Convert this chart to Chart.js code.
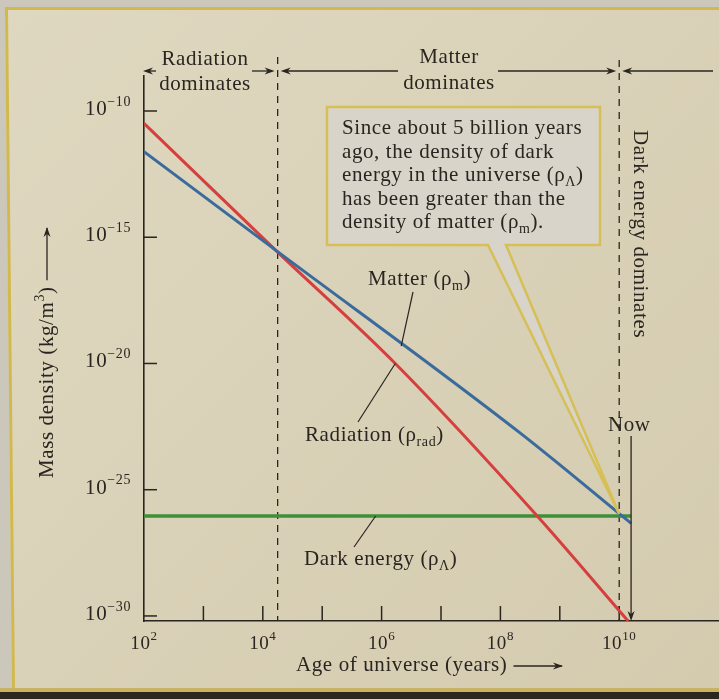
<!DOCTYPE html>
<html>
<head>
<meta charset="utf-8">
<script src="https://cdn.jsdelivr.net/npm/chart.js@4.4.1/dist/chart.umd.min.js"></script>
<style>
  html, body { margin: 0; padding: 0; background: #dcd4bb; }
  #wrap { width: 719px; height: 699px; }
</style>
</head>
<body>
<div id="wrap"><canvas id="densityChart" width="719" height="699"></canvas></div>
<script>
// values, stored as powers of ten
const radiationAge = [2, 4.21, 6.23, 8.62, 10.15];
const radiationDensity = [-10.49, -15.5, -20.0, -26.04, -30.2];
const matterAge = [2, 4.21, 8.33, 10.2];
const matterDensity = [-11.61, -15.5, -22.75, -26.33];
const darkEnergyAge = [2, 10.2];
const darkEnergyDensity = [-26.04, -26.04];

const xTickExps = [3, 4, 5, 6, 7, 8, 9, 10];
const xLabelExps = [2, 4, 6, 8, 10];
const yTickExps = [-10, -15, -20, -25, -30];

const equalityAge = 4.25;   // radiation = matter
const lambdaAge = 10.0;     // dark energy takes over
const nowAge = 10.2;

const INK = "#2a2520";
const FONT = '"Liberation Serif", "DejaVu Serif", serif';

function toPoints(ages, dens) {
  return ages.map((a, i) => ({ x: Math.pow(10, a), y: Math.pow(10, dens[i]) }));
}

// position along a series (in log space), used only to anchor leader lines
function logAt(ages, dens, a) {
  for (let i = 1; i < ages.length; i++) {
    if (a <= ages[i]) {
      const t = (a - ages[i - 1]) / (ages[i] - ages[i - 1]);
      return dens[i - 1] + t * (dens[i] - dens[i - 1]);
    }
  }
  return dens[dens.length - 1];
}

function setFont(ctx, size) {
  ctx.font = size + "px " + FONT;
  ctx.letterSpacing = "0.6px";
}

// parts: [text, "sup" | "sub" | undefined]
function richText(ctx, parts, x, y, size, align) {
  const small = Math.round(size * 0.66);
  let total = 0;
  const widths = parts.map(p => {
    setFont(ctx, p[1] ? small : size);
    const w = ctx.measureText(p[0]).width;
    total += w;
    return w;
  });
  let cx = align === "right" ? x - total : align === "center" ? x - total / 2 : x;
  ctx.textAlign = "left";
  ctx.textBaseline = "alphabetic";
  ctx.fillStyle = INK;
  parts.forEach((p, i) => {
    setFont(ctx, p[1] ? small : size);
    const dy = p[1] === "sup" ? -size * 0.45 : p[1] === "sub" ? size * 0.25 : 0;
    ctx.fillText(p[0], cx, y + dy);
    cx += widths[i];
  });
  return total;
}

function seg(ctx, x1, y1, x2, y2, w, dash) {
  ctx.save();
  ctx.strokeStyle = INK;
  ctx.lineWidth = w || 1.3;
  ctx.setLineDash(dash || []);
  ctx.beginPath();
  ctx.moveTo(x1, y1);
  ctx.lineTo(x2, y2);
  ctx.stroke();
  ctx.restore();
}

// small filled arrowhead with its tip at (x, y), pointing along angle
function head(ctx, x, y, angle) {
  ctx.save();
  ctx.translate(x, y);
  ctx.rotate(angle);
  ctx.fillStyle = INK;
  ctx.beginPath();
  ctx.moveTo(0, 0);
  ctx.lineTo(-10, -3.5);
  ctx.lineTo(-7, 0);
  ctx.lineTo(-10, 3.5);
  ctx.closePath();
  ctx.fill();
  ctx.restore();
}

const figure = {
  id: "figure",
  beforeDraw(chart) {
    const ctx = chart.ctx;
    const g = ctx.createLinearGradient(0, 0, 719, 699);
    g.addColorStop(0, "#dfd8c0");
    g.addColorStop(1, "#d4cbaf");
    ctx.save();
    ctx.fillStyle = g;
    ctx.fillRect(0, 0, 719, 699);
    // page edge and frame of the photographed figure
    ctx.fillStyle = "#cbc7ba";
    ctx.fillRect(0, 0, 719, 7);
    ctx.beginPath();
    ctx.moveTo(0, 0); ctx.lineTo(5, 0); ctx.lineTo(12, 699); ctx.lineTo(0, 699);
    ctx.fill();
    ctx.strokeStyle = "#d2b94e";
    ctx.lineWidth = 3;
    ctx.beginPath();
    ctx.moveTo(719, 8.5); ctx.lineTo(6.5, 8.5); ctx.lineTo(13.5, 690);
    ctx.stroke();
    ctx.fillStyle = "#c9b262";
    ctx.fillRect(0, 688, 719, 4);
    ctx.fillStyle = "#2b2620";
    ctx.fillRect(0, 692, 719, 7);
    ctx.restore();
  },
  beforeDatasetsDraw(chart) {
    const ctx = chart.ctx;
    const xs = chart.scales.x, ys = chart.scales.y;
    const X = v => xs.getPixelForValue(Math.pow(10, v));
    const Y = v => ys.getPixelForValue(Math.pow(10, v));
    const bottom = chart.chartArea.bottom, left = chart.chartArea.left;
    seg(ctx, X(equalityAge), 57, X(equalityAge), bottom, 1.3, [7, 6]);
    seg(ctx, X(lambdaAge), 60, X(lambdaAge), bottom, 1.3, [7, 6]);
    xTickExps.forEach(e => seg(ctx, X(e), bottom, X(e), bottom - 15, 1.5));
    yTickExps.forEach(e => seg(ctx, left, Y(e), left + 13, Y(e), 1.5));
  },
  afterDatasetsDraw(chart) {
    const ctx = chart.ctx;
    const xs = chart.scales.x, ys = chart.scales.y;
    const X = v => xs.getPixelForValue(Math.pow(10, v));
    const Y = v => ys.getPixelForValue(Math.pow(10, v));
    const area = chart.chartArea;

    // tick labels
    xLabelExps.forEach(e => richText(ctx, [["10"], [String(e), "sup"]], X(e), area.bottom + 28, 19, "center"));
    yTickExps.forEach(e => richText(ctx, [["10"], ["\u2212" + (-e), "sup"]], 131, Y(e) + 4, 21, "right"));

    // axis titles
    const tw = richText(ctx, [["Age of universe (years)"]], 296, 671, 21, "left");
    seg(ctx, 296 + tw + 6, 666, 562, 666, 1.3);
    head(ctx, 563, 666, 0);

    ctx.save();
    ctx.translate(47, 478);
    ctx.rotate(-Math.PI / 2);
    const yw = richText(ctx, [["Mass density (kg/m"], ["3", "sup"], [")"]], 0, 6, 21, "left");
    seg(ctx, yw + 6, 0, 250, 0, 1.3);
    head(ctx, 251, 0, 0);
    ctx.restore();

    // era brackets along the top
    const yb = 71;
    const xe = X(equalityAge), xl = X(lambdaAge);
    head(ctx, area.left - 1, yb, Math.PI);
    seg(ctx, area.left + 4, yb, 156, yb);
    seg(ctx, 252, yb, xe - 8, yb);
    head(ctx, xe - 3, yb, 0);
    head(ctx, xe + 3, yb, Math.PI);
    seg(ctx, xe + 8, yb, 398, yb);
    seg(ctx, 498, yb, xl - 8, yb);
    head(ctx, xl - 3, yb, 0);
    head(ctx, xl + 3, yb, Math.PI);
    seg(ctx, xl + 8, yb, 713, yb);
    richText(ctx, [["Radiation"]], 205, 65, 21, "center");
    richText(ctx, [["dominates"]], 205, 90, 21, "center");
    richText(ctx, [["Matter"]], 449, 63, 21, "center");
    richText(ctx, [["dominates"]], 449, 89, 21, "center");

    ctx.save();
    ctx.translate(634, 130);
    ctx.rotate(Math.PI / 2);
    richText(ctx, [["Dark energy dominates"]], 0, 0, 21, "left");
    ctx.restore();

    // series labels with leader lines
    richText(ctx, [["Matter (\u03c1"], ["m", "sub"], [")"]], 368, 285, 21, "left");
    seg(ctx, 413, 292, X(6.33), Y(logAt(matterAge, matterDensity, 6.33)) + 2, 1.2);
    richText(ctx, [["Radiation (\u03c1"], ["rad", "sub"], [")"]], 305, 441, 21, "left");
    seg(ctx, 358, 422, X(6.23), Y(logAt(radiationAge, radiationDensity, 6.23)), 1.2);
    richText(ctx, [["Dark energy (\u03c1"], ["\u039b", "sub"], [")"]], 304, 565, 21, "left");
    seg(ctx, 354, 547, X(5.9), Y(logAt(darkEnergyAge, darkEnergyDensity, 5.9)), 1.2);

    // now marker
    richText(ctx, [["Now"]], 608, 431, 21, "left");
    seg(ctx, X(nowAge), 436, X(nowAge), area.bottom - 6, 1.3);
    head(ctx, X(nowAge), area.bottom, Math.PI / 2);

    // callout box with pointer
    const tipX = X(lambdaAge), tipY = Y(logAt(darkEnergyAge, darkEnergyDensity, lambdaAge));
    ctx.save();
    ctx.beginPath();
    ctx.moveTo(327, 107);
    ctx.lineTo(600, 107);
    ctx.lineTo(600, 245);
    ctx.lineTo(506, 245);
    ctx.lineTo(tipX, tipY - 2);
    ctx.lineTo(488, 245);
    ctx.lineTo(327, 245);
    ctx.closePath();
    ctx.fillStyle = "#d8d4c9";
    ctx.fill();
    ctx.strokeStyle = "#d6bf55";
    ctx.lineWidth = 2.5;
    ctx.lineJoin = "miter";
    ctx.stroke();
    ctx.restore();

    const lines = [
      [["Since about 5 billion years"]],
      [["ago, the density of dark"]],
      [["energy in the universe (\u03c1"], ["\u039b", "sub"], [")"]],
      [["has been greater than the"]],
      [["density of matter (\u03c1"], ["m", "sub"], [")."]]
    ];
    lines.forEach((l, i) => richText(ctx, l, 342, 134 + i * 23.5, 21, "left"));
  }
};

new Chart(document.getElementById("densityChart"), {
  type: "line",
  data: {
    datasets: [
      {
        label: "Matter",
        data: toPoints(matterAge, matterDensity),
        borderColor: "#3a6b9c",
        borderWidth: 3,
        pointRadius: 0,
        cubicInterpolationMode: "monotone"
      },
      {
        label: "Radiation",
        data: toPoints(radiationAge, radiationDensity),
        borderColor: "#d53f3e",
        borderWidth: 3,
        pointRadius: 0,
        cubicInterpolationMode: "monotone"
      },
      {
        label: "Dark energy",
        data: toPoints(darkEnergyAge, darkEnergyDensity),
        borderColor: "#3f8e38",
        borderWidth: 3.5,
        pointRadius: 0,
        tension: 0
      }
    ]
  },
  options: {
    responsive: false,
    devicePixelRatio: 1,
    animation: false,
    layout: { padding: { left: 144, top: 76, right: 0, bottom: 78 } },
    plugins: { legend: { display: false }, tooltip: { enabled: false } },
    scales: {
      x: {
        type: "logarithmic",
        min: 1e2,
        max: Math.pow(10, 11.68),
        ticks: { display: false },
        grid: { display: false, drawTicks: false },
        border: { display: true, color: INK, width: 1.6 }
      },
      y: {
        type: "logarithmic",
        min: Math.pow(10, -30.2),
        max: Math.pow(10, -8.614),
        ticks: { display: false },
        grid: { display: false, drawTicks: false },
        border: { display: true, color: INK, width: 1.6 }
      }
    }
  },
  plugins: [figure]
});
</script>
</body>
</html>
